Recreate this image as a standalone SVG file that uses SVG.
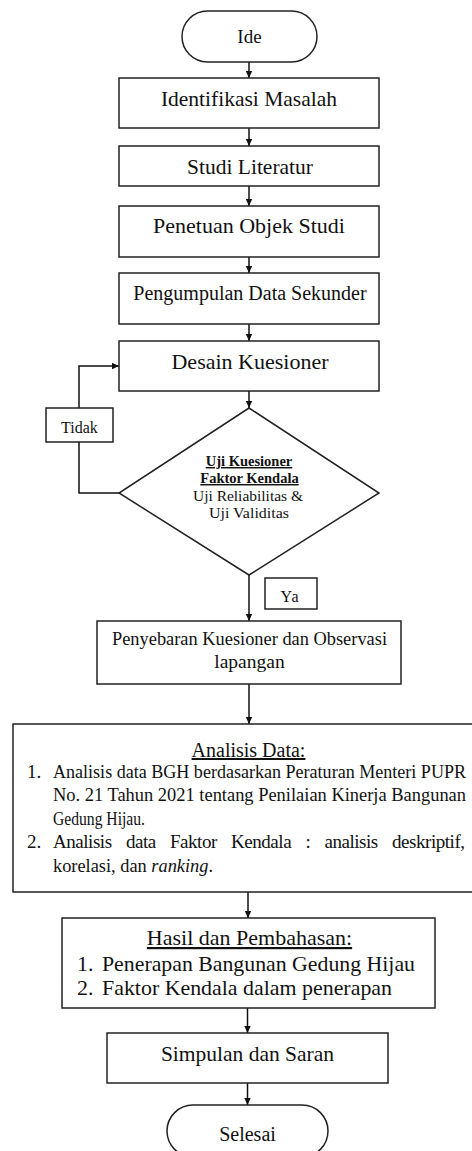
<svg xmlns="http://www.w3.org/2000/svg" width="472" height="1151" viewBox="0 0 472 1151">
<defs>
<marker id="ah" markerWidth="8" markerHeight="8" refX="7" refY="4" orient="auto" markerUnits="userSpaceOnUse">
<path d="M0,0.8 L7,4 L0,7.2 Z" fill="#111"/>
</marker>
<style>
.s{fill:#fff;stroke:#222;stroke-width:1.5}
.c{fill:none;stroke:#111;stroke-width:1.5;marker-end:url(#ah)}
text{font-family:"Liberation Serif","Times New Roman",serif;fill:#111}
.m{text-anchor:middle}
.u{text-decoration:underline}
</style>
</defs>
<rect width="472" height="1151" fill="#fff"/>
<g id="connectors">
<line class="c" x1="249" y1="62" x2="249" y2="78"/>
<line class="c" x1="249" y1="128" x2="249" y2="146"/>
<line class="c" x1="249" y1="186" x2="249" y2="206"/>
<line class="c" x1="249" y1="257" x2="249" y2="273"/>
<line class="c" x1="249" y1="324" x2="249" y2="341"/>
<line class="c" x1="249" y1="391" x2="249" y2="408"/>
<polyline class="c" points="119,493 79,493 79,366 119,366"/>
<line class="c" x1="249" y1="575" x2="249" y2="621"/>
<line class="c" x1="249" y1="684" x2="249" y2="724"/>
<line class="c" x1="248" y1="892" x2="248" y2="918"/>
<line class="c" x1="247.5" y1="1008" x2="247.5" y2="1033"/>
<line class="c" x1="247.5" y1="1083" x2="247.5" y2="1105"/>
</g>
<g id="ide">
<rect class="s" x="182" y="11" width="135" height="51" rx="25.5"/>
<text class="m" x="249.5" y="43" font-size="19">Ide</text>
</g>
<g id="identifikasi">
<rect class="s" x="119" y="78" width="260" height="50"/>
<text class="m" x="249" y="106" font-size="21.5">Identifikasi Masalah</text>
</g>
<g id="studi">
<rect class="s" x="119" y="146" width="260" height="40"/>
<text class="m" x="250" y="174" font-size="21.5">Studi Literatur</text>
</g>
<g id="penetuan">
<rect class="s" x="119" y="206" width="260" height="51"/>
<text class="m" x="249" y="233" font-size="22">Penetuan Objek Studi</text>
</g>
<g id="pengumpulan">
<rect class="s" x="119" y="273" width="260" height="51"/>
<text class="m" x="250" y="300" font-size="20">Pengumpulan Data Sekunder</text>
</g>
<g id="desain">
<rect class="s" x="119" y="341" width="260" height="50"/>
<text class="m" x="250" y="369" font-size="22">Desain Kuesioner</text>
</g>
<g id="uji">
<polygon class="s" points="249,408 379,493 249,575 119,493"/>
<text class="m u" x="249" y="466" font-size="14.5" font-weight="bold">Uji Kuesioner</text>
<text class="m u" x="249.5" y="483" font-size="14.5" font-weight="bold">Faktor Kendala</text>
<text x="193" y="501" font-size="15" textLength="110" lengthAdjust="spacingAndGlyphs">Uji Reliabilitas &amp;</text>
<text x="209" y="518" font-size="15" textLength="80" lengthAdjust="spacingAndGlyphs">Uji Validitas</text>
</g>
<g id="tidak">
<rect class="s" x="46" y="408" width="67" height="34"/>
<text class="m" x="79.5" y="433" font-size="16">Tidak</text>
</g>
<g id="ya">
<rect class="s" x="265" y="578" width="52" height="31"/>
<text class="m" x="290" y="602" font-size="16" letter-spacing="1">Ya</text>
</g>
<g id="penyebaran">
<rect class="s" x="97" y="621" width="304" height="63"/>
<text x="112" y="645" font-size="19.5" textLength="275" lengthAdjust="spacingAndGlyphs">Penyebaran Kuesioner dan Observasi</text>
<text class="m" x="249.5" y="668" font-size="19.5">lapangan</text>
</g>
<g id="analisis">
<rect class="s" x="13" y="724" width="470" height="168"/>
<text class="m u" x="248.5" y="757" font-size="20">Analisis Data:</text>
<text x="27" y="778" font-size="19">1.</text>
<text x="53" y="778" font-size="18" textLength="413" lengthAdjust="spacingAndGlyphs">Analisis data BGH berdasarkan Peraturan Menteri PUPR</text>
<text x="53" y="801" font-size="18" textLength="413" lengthAdjust="spacingAndGlyphs">No. 21 Tahun 2021 tentang Penilaian Kinerja Bangunan</text>
<text x="53" y="825" font-size="19" textLength="92" lengthAdjust="spacingAndGlyphs">Gedung Hijau.</text>
<text x="27" y="848" font-size="19">2.</text>
<text x="53" y="848" font-size="19" textLength="412" lengthAdjust="spacing" word-spacing="10">Analisis data Faktor Kendala : analisis deskriptif,</text>
<text x="53" y="872" font-size="19" textLength="160" lengthAdjust="spacingAndGlyphs">korelasi, dan <tspan font-style="italic">ranking</tspan>.</text>
</g>
<g id="hasil">
<rect class="s" x="62" y="918" width="373" height="90"/>
<text class="m u" x="249.5" y="945" font-size="22">Hasil dan Pembahasan:</text>
<text x="77" y="971" font-size="22">1.</text>
<text x="102" y="971" font-size="22" textLength="313" lengthAdjust="spacingAndGlyphs">Penerapan Bangunan Gedung Hijau</text>
<text x="77" y="995" font-size="22">2.</text>
<text x="102" y="995" font-size="22" textLength="290" lengthAdjust="spacingAndGlyphs">Faktor Kendala dalam penerapan</text>
</g>
<g id="simpulan">
<rect class="s" x="107" y="1033" width="281" height="50"/>
<text class="m" x="247.5" y="1061" font-size="21.5">Simpulan dan Saran</text>
</g>
<g id="selesai">
<rect class="s" x="167" y="1105" width="161" height="52" rx="26"/>
<text class="m" x="247.5" y="1141" font-size="20">Selesai</text>
</g>
</svg>
